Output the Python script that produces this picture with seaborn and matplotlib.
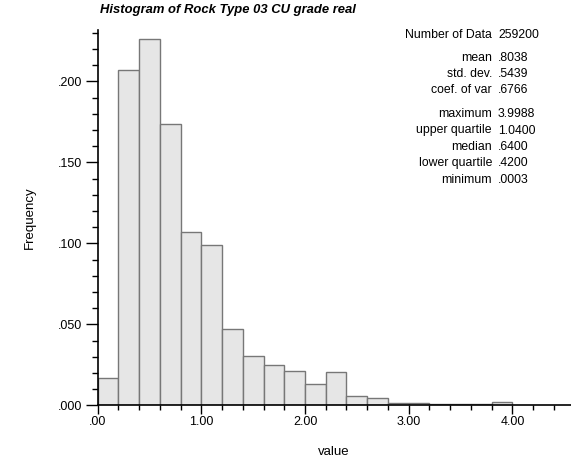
import matplotlib
matplotlib.use("Agg")
import matplotlib.pyplot as plt
import matplotlib.ticker as mticker
import seaborn as sns
import numpy as np
import pandas as pd

# histogram bins (0.2 wide) and relative frequencies
bin_lo = [0.0, 0.2, 0.4, 0.6, 0.8, 1.0, 1.2, 1.4, 1.6, 1.8,
          2.0, 2.2, 2.4, 2.6, 2.8, 3.0, 3.2, 3.4, 3.6, 3.8]
freq = [0.0170, 0.2072, 0.2263, 0.1738, 0.1068, 0.0990, 0.0469, 0.0302,
        0.0251, 0.0210, 0.0133, 0.0204, 0.0056, 0.0045, 0.0014, 0.0013,
        0.0006, 0.0005, 0.0006, 0.0018]
bin_width = 0.2

# summary statistics box
stat_labels = ["Number of Data", "mean", "std. dev.", "coef. of var",
               "maximum", "upper quartile", "median", "lower quartile", "minimum"]
stat_values = ["259200", ".8038", ".5439", ".6766",
               "3.9988", "1.0400", ".6400", ".4200", ".0003"]

sns.set_style("ticks", {"text.color": "black", "axes.labelcolor": "black",
                        "xtick.color": "black", "ytick.color": "black"})
plt.rcParams['font.family'] = ['Liberation Sans', 'DejaVu Sans']

W, H = 571, 466
PX = 0.72  # points per pixel at dpi 100
fig = plt.figure(figsize=(W / 100, H / 100), dpi=100)
ax = fig.add_axes([97.6 / W, 1 - 405.3 / H, 1 - 97.6 / W, (405.3 - 30) / H])

df = pd.DataFrame({"value": np.array(bin_lo) + bin_width / 2, "freq": freq})
sns.histplot(data=df, x="value", weights="freq", binwidth=bin_width,
             binrange=(bin_lo[0], bin_lo[-1] + bin_width), stat="count",
             color="#e6e6e6", edgecolor="#777777", linewidth=1.0, alpha=1,
             ax=ax)

ax.set_xlim(0, (W - 97.6) / 103.7)
ax.set_ylim(0, (405.3 - 30) / 1620)

ax.xaxis.set_major_locator(mticker.MultipleLocator(1.0))
ax.xaxis.set_minor_locator(mticker.MultipleLocator(0.2))
ax.yaxis.set_major_locator(mticker.MultipleLocator(0.05))
ax.yaxis.set_minor_locator(mticker.MultipleLocator(0.01))
ax.xaxis.set_major_formatter(mticker.FuncFormatter(lambda v, p: f"{v:.2f}".lstrip("0") if v < 1 else f"{v:.2f}"))
ax.yaxis.set_major_formatter(mticker.FuncFormatter(lambda v, p: f"{v:.3f}".lstrip("0")))

ax.tick_params(axis="y", which="major", length=12 * PX, width=1, labelsize=9, pad=3 * PX)
ax.tick_params(axis="y", which="minor", length=6 * PX, width=1)
ax.tick_params(axis="x", which="major", length=9 * PX, width=1, labelsize=9, pad=2 * PX)
ax.tick_params(axis="x", which="minor", length=5 * PX, width=1)

sns.despine(ax=ax)
for s in ["left", "bottom"]:
    ax.spines[s].set_linewidth(1.2)
    ax.spines[s].set_color("black")

ax.set_xlabel("value", fontsize=9.5)
ax.set_ylabel("Frequency", fontsize=9.5)
ax.xaxis.set_label_coords((334 - 97.6) / (W - 97.6), -(452 - 405.3) / (405.3 - 30))
ax.yaxis.set_label_coords(-(97.6 - 30) / (W - 97.6), 0.5)
ax.xaxis.label.set_va("center")
ax.yaxis.label.set_va("center")

fig.text(100 / W, 1 - 10 / H, "Histogram of Rock Type 03 CU grade real",
         fontsize=9.4, fontweight="bold", style="italic", va="center", ha="left")

# stats block positions (pixels from top)
stat_y = [35, 58, 74, 90, 114, 130.5, 147, 163.5, 180]
for lab, val, yy in zip(stat_labels, stat_values, stat_y):
    fig.text(492 / W, 1 - yy / H, lab, fontsize=8.8, ha="right", va="center")
    fig.text(498 / W, 1 - yy / H, val, fontsize=8.8, ha="left", va="center")

fig.savefig("out.png", dpi=100)
